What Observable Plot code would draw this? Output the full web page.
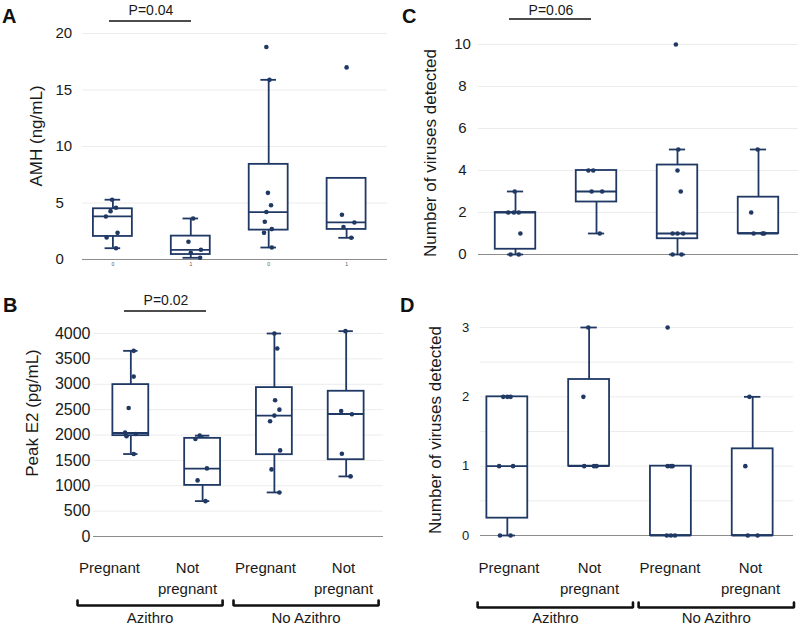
<!DOCTYPE html>
<html><head><meta charset="utf-8">
<script src="https://cdn.jsdelivr.net/npm/d3@7"></script>
<script src="https://cdn.jsdelivr.net/npm/@observablehq/plot@0.6"></script>
<style>
body{margin:0;background:#fff;}
#chart{position:relative;width:800px;height:627px;font-family:"Liberation Sans",Arial,sans-serif;overflow:hidden;background:#fff;}
#chart > svg{position:absolute;overflow:visible;}
</style></head><body><div id="chart"></div>
<script>
// ---------- shared categories ----------
const groups = ["Pregnant", "Not\npregnant", "Pregnant", "Not\npregnant"];
const treatments = ["Azithro", "No Azithro"];
const xTickA = ["0", "1", "0", "1"];

// ---------- Panel A: AMH (ng/mL) ----------
const amhTicks = [0, 5, 10, 15, 20];
const amhLow  = [1.0, 0.15, 1.06, 1.92];
const amhQ1   = [2.04, 0.44, 2.6, 2.66];
const amhMed  = [3.81, 0.86, 4.2, 3.28];
const amhQ3   = [4.49, 2.07, 8.42, 7.18];
const amhHigh = [5.29, 3.63, 15.9, 7.18];
const amhPoints = [[5.29,4.58,4.28,3.81,2.36,1.95,1.0],[3.63,1.57,0.86,0.6,0.15],[18.8,15.9,5.9,4.8,4.2,3.34,2.69,2.36,1.06],[17.0,3.96,3.28,2.87,1.92]];
const amhJitter = [[-0.01,0.04,-0.03,-0.09,0.06,-0.08,0.04],[0.03,-0.03,0.13,0,0.12],[-0.03,0.01,-0.01,0.03,-0.03,-0.05,0.04,-0.06,0.04],[0,-0.06,0.1,-0.04,0.06]];

// ---------- Panel B: Peak E2 (pg/mL) ----------
const e2Ticks = [0, 500, 1000, 1500, 2000, 2500, 3000, 3500, 4000];
const e2Low  = [1625, 697, 868, 1184];
const e2Q1   = [1987, 1007, 1612, 1513];
const e2Med  = [2039, 1336, 2382, 2414];
const e2Q3   = [2993, 1934, 2934, 2862];
const e2High = [3658, 1987, 4000, 4046];
const e2Points = [[3658,3151,2533,2046,1974,2020,1625],[1987,1921,1342,1105,697],[4000,3704,2684,2500,2382,2270,1697,1322,868],[4046,2474,2408,1632,1184]];
const e2Jitter = [[0.04,0.04,-0.03,-0.08,-0.06,0.07,0.04],[-0.04,-0.1,0.06,-0.07,0.04],[0,0.04,0.01,0.07,0,-0.06,0.08,-0.04,0.07],[-0.01,-0.07,0.08,-0.06,0.06]];

// ---------- Panel C: Number of viruses detected ----------
const cTicks = [0, 2, 4, 6, 8, 10];
const cLow  = [0, 1, 0, 1];
const cQ1   = [0.25, 2.5, 0.75, 1];
const cMed  = [2, 3, 1, 1];
const cQ3   = [2, 4, 4.26, 2.73];
const cHigh = [3, 4, 5, 5];
const cPoints = [[3,2,2,2,1,0,0],[4,4,3,3,1],[10,5,4,3,1,1,1,0,0],[5,2,1,1,1]];
const cJitter = [[-0.01,-0.09,-0.02,0.04,0.06,-0.06,0.04],[-0.1,-0.04,-0.06,0.07,0.04],[-0.02,0.01,0,0.04,-0.06,0,0.07,-0.06,0.05],[-0.01,-0.09,-0.06,0.05,0.07]];

// ---------- Panel D: Number of viruses detected ----------
const dTicks = [0, 1, 2, 3];
const dGrid = [0, 0.5, 1, 1.5, 2, 2.5, 3];
const dLow  = [0, 1, 0, 0];
const dQ1   = [0.25, 1, 0, 0];
const dMed  = [1, 1, 0, 0];
const dQ3   = [2, 2.25, 1, 1.25];
const dHigh = [2, 3, 1, 2];
const dPoints = [[2,2,2,1,1,0,0],[3,2,1,1,1],[3,1,1,1,0,0,0],[2,1,0,0]];
const dJitter = [[-0.05,0,0.04,-0.1,0.07,-0.09,0.04],[-0.01,-0.07,-0.06,0.06,0.09],[-0.04,-0.04,0,0.02,-0.05,0,0.05],[-0.04,-0.09,-0.06,0.06]];

// ---------- annotations ----------
const panelLetters = ["A", "B", "C", "D"];
const yLabels = ["AMH (ng/mL)", "Peak E2 (pg/mL)", "Number of viruses detected", "Number of viruses detected"];
const pValues = ["P=0.04", "P=0.02", "P=0.06"];

const NAVY = "#1f3864";
const chart = document.getElementById("chart");

function boxPanel(c) {
  const boxes = c.low.map((lo, i) => ({i, lo, q1: c.q1[i], med: c.med[i], q3: c.q3[i], hi: c.high[i]}));
  const pts = c.points.flatMap((arr, i) => arr.map((v, j) => ({x: i + c.jitter[i][j], y: v})));
  const hw = 0.25, cap = 0.1, sw = 1.8;
  const marks = [
    Plot.ruleY(c.grid, {stroke: "#ececec", strokeWidth: 1}),
    Plot.ruleY([0], {stroke: "#8c8c8c", strokeWidth: 1}),
    Plot.text(c.ticks, {y: d => d, text: d => String(d), frameAnchor: "left", textAnchor: c.tickAnchor, dx: c.tickDx, fontSize: c.tickFont, fill: "#1a1a1a"}),
    Plot.ruleX(boxes.filter(d => d.hi > d.q3), {x: "i", y1: "q3", y2: "hi", stroke: NAVY, strokeWidth: sw}),
    Plot.ruleX(boxes.filter(d => d.lo < d.q1), {x: "i", y1: "lo", y2: "q1", stroke: NAVY, strokeWidth: sw}),
    Plot.ruleY(boxes.filter(d => d.hi > d.q3), {y: "hi", x1: d => d.i - cap, x2: d => d.i + cap, stroke: NAVY, strokeWidth: sw}),
    Plot.ruleY(boxes.filter(d => d.lo < d.q1), {y: "lo", x1: d => d.i - cap, x2: d => d.i + cap, stroke: NAVY, strokeWidth: sw}),
    Plot.rect(boxes, {x1: d => d.i - hw, x2: d => d.i + hw, y1: "q1", y2: "q3", fill: "white", stroke: NAVY, strokeWidth: sw}),
    Plot.ruleY(boxes, {y: "med", x1: d => d.i - hw, x2: d => d.i + hw, stroke: NAVY, strokeWidth: sw}),
    Plot.dot(pts, {x: "x", y: "y", r: 2.3, fill: NAVY, stroke: "none"})
  ];
  if (c.xTicks) marks.push(Plot.text(c.xTicks, {x: (d, i) => i, text: d => d, frameAnchor: "bottom", dy: 6, fontSize: 5, fill: "#555"}));
  const svg = Plot.plot({
    width: c.width, height: c.height,
    marginTop: c.mt, marginBottom: c.mb, marginLeft: c.ml, marginRight: c.mr,
    x: {domain: c.xDomain, axis: null},
    y: {domain: c.yDomain, axis: null},
    style: {fontFamily: "'Liberation Sans', Arial, sans-serif", background: "transparent", overflow: "visible"},
    marks
  });
  svg.style.left = c.left + "px";
  svg.style.top = c.top + "px";
  chart.appendChild(svg);
}

function labelPanel(c) {
  const bracket = [];
  treatments.forEach((t, k) => {
    const xa = 2 * k - c.extL, xb = 2 * k + 1 + c.extR;
    bracket.push({k, x: xa, y: c.bTop}, {k, x: xa, y: c.bLine}, {k, x: xb, y: c.bLine}, {k, x: xb, y: c.bTop});
  });
  const svg = Plot.plot({
    width: 400, height: 82, margin: 0,
    x: {domain: [-0.5, 3.5], range: c.xRange, axis: null},
    y: {domain: [0, 82], range: [0, 82], axis: null},
    style: {fontFamily: "'Liberation Sans', Arial, sans-serif", background: "transparent", overflow: "visible"},
    marks: [
      Plot.text(groups, {x: (d, i) => i, y: 12, text: d => d, lineAnchor: "top", lineHeight: 1.42, fontSize: 15, fill: "#1a1a1a"}),
      Plot.line(bracket, {x: "x", y: "y", z: "k", stroke: "#111", strokeWidth: 2.6, strokeLinejoin: "miter"}),
      Plot.text(treatments, {x: (d, k) => 2 * k + 0.5 + (c.extR - c.extL) / 2, y: 73, text: d => d, fontSize: 15, fill: "#1a1a1a"})
    ]
  });
  svg.style.left = c.left + "px";
  svg.style.top = "545px";
  chart.appendChild(svg);
}

// Panel A
boxPanel({left: 0, top: 0, width: 400, height: 275, mt: 33, mb: 16, ml: 82, mr: 13,
  xDomain: [-0.39, 3.525], yDomain: [0, 20],
  low: amhLow, q1: amhQ1, med: amhMed, q3: amhQ3, high: amhHigh, points: amhPoints, jitter: amhJitter,
  ticks: amhTicks, grid: amhTicks, tickAnchor: "start", tickDx: -27, tickFont: 15, xTicks: xTickA});

// Panel B
boxPanel({left: 0, top: 280, width: 400, height: 265, mt: 53, mb: 9, ml: 93, mr: 17,
  xDomain: [-0.52, 3.52], yDomain: [0, 4000],
  low: e2Low, q1: e2Q1, med: e2Med, q3: e2Q3, high: e2High, points: e2Points, jitter: e2Jitter,
  ticks: e2Ticks, grid: e2Ticks, tickAnchor: "end", tickDx: -3, tickFont: 16});

// Panel C
boxPanel({left: 400, top: 0, width: 400, height: 275, mt: 44, mb: 21, ml: 78, mr: 2,
  xDomain: [-0.457, 3.494], yDomain: [0, 10],
  low: cLow, q1: cQ1, med: cMed, q3: cQ3, high: cHigh, points: cPoints, jitter: cJitter,
  ticks: cTicks, grid: cTicks, tickAnchor: "middle", tickDx: -16, tickFont: 15});

// Panel D
boxPanel({left: 400, top: 280, width: 400, height: 265, mt: 47, mb: 10, ml: 80, mr: 7,
  xDomain: [-0.328, 3.499], yDomain: [0, 3],
  low: dLow, q1: dQ1, med: dMed, q3: dQ3, high: dHigh, points: dPoints, jitter: dJitter,
  ticks: dTicks, grid: dGrid, tickAnchor: "middle", tickDx: -15, tickFont: 13});

// Category labels + brackets
labelPanel({left: 0, xRange: [70, 382], extL: 0.41, extR: 0.45, bTop: 55, bLine: 60});
labelPanel({left: 400, xRange: [68.25, 390.25], extL: 0.39, extR: 0.54, bTop: 57, bLine: 62});

// Overlay: panel letters, y-axis titles and P-value annotations
const ov = d3.select(chart).append("svg")
  .attr("width", 800).attr("height", 627)
  .style("left", "0px").style("top", "0px")
  .style("font-family", "'Liberation Sans', Arial, sans-serif");
const letterPos = [[2, 23], [3, 312], [402, 23], [400, 312]];
panelLetters.forEach((L, i) => ov.append("text").attr("x", letterPos[i][0]).attr("y", letterPos[i][1])
  .attr("font-size", 20).attr("font-weight", "bold").attr("fill", "#111").text(L));
const labelPos = [[36, 136], [32, 413], [430, 153], [435, 430]];
yLabels.forEach((t, i) => ov.append("text")
  .attr("transform", `translate(${labelPos[i][0]},${labelPos[i][1]}) rotate(-90)`)
  .attr("text-anchor", "middle").attr("dy", "0.35em")
  .attr("font-size", 17).attr("fill", "#1a1a1a").text(t));
const pPos = [[151, 15, 109, 191, 21], [166, 305, 124, 206, 311], [551, 15, 509, 591, 19]];
pValues.forEach((p, i) => {
  const [tx, ty, x1, x2, ly] = pPos[i];
  ov.append("text").attr("x", tx).attr("y", ty).attr("text-anchor", "middle").attr("font-size", 14).attr("fill", "#1a1a1a").text(p);
  ov.append("line").attr("x1", x1).attr("x2", x2).attr("y1", ly).attr("y2", ly).attr("stroke", "#111").attr("stroke-width", 1.6);
});
</script>
</body></html>
